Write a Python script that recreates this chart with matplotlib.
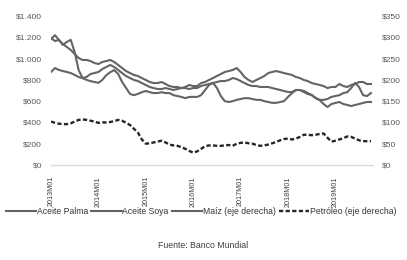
import matplotlib
matplotlib.use('Agg')
import matplotlib.pyplot as plt
from matplotlib.ticker import FuncFormatter, FixedLocator

plt.rcParams.update({
    'font.family': ['Liberation Sans', 'DejaVu Sans'],
    'text.color': '#595959',
    'axes.labelcolor': '#595959',
    'xtick.color': '#404040',
    'ytick.color': '#595959',
})

# monthly series, 2013M01 .. 2019M10
aceite_soya = [1193, 1165, 1175, 1137, 1109, 1081, 1043, 1005, 987, 987, 977, 958,
               949, 968, 977, 987, 968, 940, 911, 883, 864, 846, 836, 817,
               799, 780, 770, 770, 780, 761, 742, 733, 733, 723, 733, 752,
               742, 742, 770, 780, 799, 817, 836, 855, 874, 883, 893, 911,
               874, 827, 799, 780, 799, 817, 836, 864, 874, 883, 874, 864,
               855, 846, 827, 817, 799, 789, 770, 761, 752, 742, 723, 733,
               733, 761, 742, 733, 752, 761, 780, 780, 761, 761]
aceite_palma = [874, 911, 893, 883, 874, 864, 846, 827, 817, 827, 855, 864,
                874, 902, 921, 940, 921, 893, 864, 836, 817, 799, 789, 770,
                752, 733, 723, 714, 714, 723, 714, 705, 714, 723, 723, 714,
                723, 723, 742, 752, 761, 770, 780, 789, 789, 799, 817, 808,
                789, 770, 752, 742, 742, 733, 733, 733, 723, 714, 705, 695,
                686, 686, 705, 705, 686, 667, 658, 630, 611, 573, 545, 573,
                583, 592, 573, 564, 554, 564, 573, 583, 592, 592]
maiz = [296, 305, 294, 282, 289, 294, 265, 223, 204, 200, 197, 195,
        193, 200, 211, 218, 223, 214, 195, 181, 167, 164, 167, 171,
        174, 171, 169, 169, 171, 169, 169, 164, 162, 160, 157, 160,
        160, 160, 164, 176, 188, 193, 181, 162, 150, 148, 150, 153,
        155, 157, 157, 155, 153, 153, 150, 148, 146, 146, 148, 150,
        160, 169, 176, 176, 174, 169, 164, 157, 153, 153, 155, 160,
        162, 164, 169, 171, 181, 193, 183, 164, 162, 169]
petroleo = [102, 99, 97, 96, 96, 98, 102, 106, 107, 106, 104, 102,
            99, 100, 100, 101, 103, 106, 104, 99, 94, 85, 76, 60,
            50, 51, 53, 55, 57, 53, 48, 46, 45, 42, 38, 33,
            29, 32, 38, 44, 46, 46, 45, 45, 46, 47, 45, 50,
            52, 53, 51, 50, 47, 45, 46, 48, 51, 54, 58, 61,
            62, 60, 62, 66, 71, 71, 70, 71, 73, 74, 64, 55,
            57, 60, 63, 67, 66, 62, 58, 56, 56, 56]

tick_meses = [0, 12, 24, 36, 48, 60, 72]
tick_labels = ['2013M01', '2014M01', '2015M01', '2016M01', '2017M01', '2018M01', '2019M01']
left_ticks = [0, 200, 400, 600, 800, 1000, 1200, 1400]
right_ticks = [0, 50, 100, 150, 200, 250, 300, 350]

gris = '#646464'


def pesos(v, pos=None):
    return '$' + f'{int(v):,}'.replace(',', '.')


fig = plt.figure(figsize=(4.07, 2.60), dpi=100)
ax = fig.add_axes([0.1253, 0.3654, 0.791, 0.573])
ax2 = ax.twinx()

x = list(range(len(aceite_soya)))
l1, = ax.plot(x, aceite_palma, color=gris, lw=1.5)
l2, = ax.plot(x, aceite_soya, color=gris, lw=1.5)
l3, = ax2.plot(x, maiz, color=gris, lw=1.5)
l4, = ax2.plot(x, petroleo, color='#262626', lw=1.7, linestyle=(0, (1.8, 1.0)))

ax.set_xlim(0, 81.5)
ax.set_ylim(0, 1400)
ax2.set_ylim(0, 350)

ax.yaxis.set_major_locator(FixedLocator(left_ticks))
ax2.yaxis.set_major_locator(FixedLocator(right_ticks))
ax.yaxis.set_major_formatter(FuncFormatter(pesos))
ax2.yaxis.set_major_formatter(FuncFormatter(pesos))
ax.set_xticks(tick_meses)
ax.set_xticklabels(tick_labels, rotation=90, fontsize=5.2)

ax.tick_params(axis='y', length=0, labelsize=6, pad=6.5)
ax2.tick_params(axis='y', length=0, labelsize=6, pad=6.5)
ax.tick_params(axis='x', length=0, pad=8)

for a in (ax, ax2):
    for s in a.spines.values():
        s.set_visible(False)
ax.spines['bottom'].set_visible(True)
ax.spines['bottom'].set_color('#d9d9d9')
ax.spines['bottom'].set_linewidth(1.0)

leg = fig.legend([l1, l2, l3, l4],
                 ['Aceite Palma', 'Aceite Soya', 'Maíz (eje derecha)', 'Petróleo (eje derecha)'],
                 loc='center left', bbox_to_anchor=(0.015, 0.187), ncol=4, frameon=False,
                 fontsize=6.2, handlelength=3.5, handletextpad=0.1, columnspacing=0.35,
                 borderpad=0, borderaxespad=0)
for t in leg.get_texts():
    t.set_color('#333333')

fig.text(0.5, 0.057, 'Fuente: Banco Mundial', ha='center', va='center', fontsize=6.3,
         color='#404040')

fig.savefig('out.png', dpi=100)
